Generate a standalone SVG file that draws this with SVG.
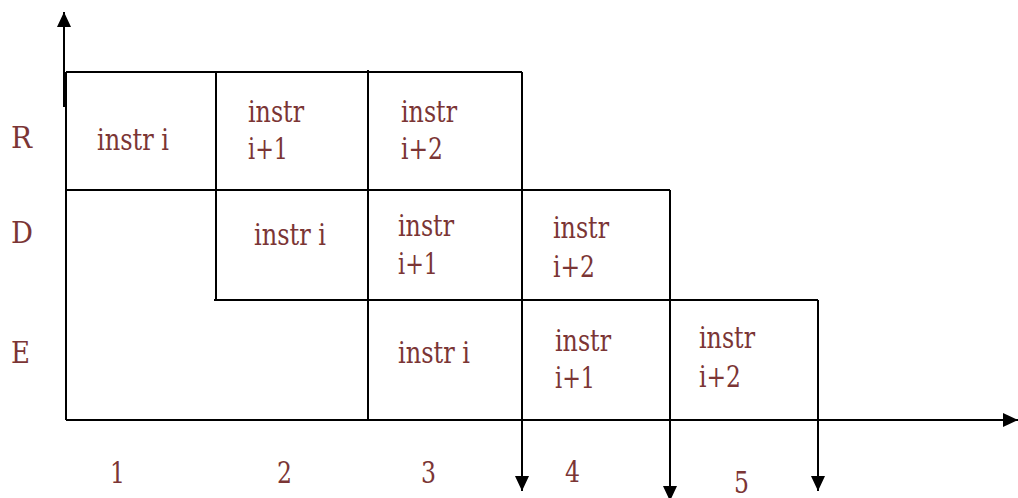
<svg xmlns="http://www.w3.org/2000/svg" width="1018" height="498" viewBox="0 0 1018 498">
  <style>
    .ln { stroke: #000; stroke-width: 2; fill: none; }
    .t { font-family: "DejaVu Serif", serif; font-size: 30px; fill: #7B3535; }
  </style>
  <defs>
    <marker id="arr" viewBox="0 0 15 14" refX="15" refY="7" markerWidth="15" markerHeight="14" markerUnits="userSpaceOnUse" orient="auto">
      <path d="M0,0 L15,7 L0,14 Z" fill="#000"/>
    </marker>
  </defs>
  <rect width="1018" height="498" fill="#fff"/>

  <!-- grid lines and axes -->
  <g id="connectors">
    <line class="ln" x1="64" y1="107" x2="64" y2="12" marker-end="url(#arr)"/>
    <line class="ln" x1="66" y1="72" x2="66" y2="420"/>
    <line class="ln" x1="66" y1="72" x2="522" y2="72"/>
    <line class="ln" x1="66" y1="190" x2="670" y2="190"/>
    <line class="ln" x1="214" y1="300" x2="818" y2="300"/>
    <line class="ln" x1="66" y1="420" x2="1018" y2="420" marker-end="url(#arr)"/>
    <line class="ln" x1="216" y1="72" x2="216" y2="300"/>
    <line class="ln" x1="368" y1="70" x2="368" y2="420"/>
    <line class="ln" x1="522" y1="72" x2="522" y2="491" marker-end="url(#arr)"/>
    <line class="ln" x1="670" y1="190" x2="670" y2="501" marker-end="url(#arr)"/>
    <line class="ln" x1="818" y1="300" x2="818" y2="491" marker-end="url(#arr)"/>
  </g>

  <!-- stage labels -->
  <g id="stage-R"><text class="t" x="11" y="148" textLength="21" lengthAdjust="spacingAndGlyphs">R</text></g>
  <g id="stage-D"><text class="t" x="11" y="243" textLength="22" lengthAdjust="spacingAndGlyphs">D</text></g>
  <g id="stage-E"><text class="t" x="11" y="363" textLength="19" lengthAdjust="spacingAndGlyphs">E</text></g>

  <!-- row R -->
  <g id="R1"><text class="t" x="97" y="150" textLength="72" lengthAdjust="spacingAndGlyphs">instr i</text></g>
  <g id="R2"><text class="t" x="248" y="122" textLength="56" lengthAdjust="spacingAndGlyphs">instr</text><text class="t" x="248" y="159" textLength="40" lengthAdjust="spacingAndGlyphs">i+1</text></g>
  <g id="R3"><text class="t" x="401" y="122" textLength="56" lengthAdjust="spacingAndGlyphs">instr</text><text class="t" x="401" y="159" textLength="42" lengthAdjust="spacingAndGlyphs">i+2</text></g>

  <!-- row D -->
  <g id="D2"><text class="t" x="254" y="245" textLength="72" lengthAdjust="spacingAndGlyphs">instr i</text></g>
  <g id="D3"><text class="t" x="398" y="236" textLength="56" lengthAdjust="spacingAndGlyphs">instr</text><text class="t" x="398" y="274" textLength="40" lengthAdjust="spacingAndGlyphs">i+1</text></g>
  <g id="D4"><text class="t" x="553" y="238" textLength="56" lengthAdjust="spacingAndGlyphs">instr</text><text class="t" x="553" y="277" textLength="42" lengthAdjust="spacingAndGlyphs">i+2</text></g>

  <!-- row E -->
  <g id="E3"><text class="t" x="398" y="363" textLength="72" lengthAdjust="spacingAndGlyphs">instr i</text></g>
  <g id="E4"><text class="t" x="555" y="351" textLength="56" lengthAdjust="spacingAndGlyphs">instr</text><text class="t" x="555" y="388" textLength="40" lengthAdjust="spacingAndGlyphs">i+1</text></g>
  <g id="E5"><text class="t" x="699" y="348" textLength="56" lengthAdjust="spacingAndGlyphs">instr</text><text class="t" x="699" y="387" textLength="42" lengthAdjust="spacingAndGlyphs">i+2</text></g>

  <!-- cycle numbers -->
  <g id="cycles">
    <text class="t" x="110" y="483" textLength="15" lengthAdjust="spacingAndGlyphs">1</text>
    <text class="t" x="277" y="483" textLength="15" lengthAdjust="spacingAndGlyphs">2</text>
    <text class="t" x="421" y="483" textLength="15" lengthAdjust="spacingAndGlyphs">3</text>
    <text class="t" x="565" y="482" textLength="15" lengthAdjust="spacingAndGlyphs">4</text>
    <text class="t" x="734" y="493" textLength="15" lengthAdjust="spacingAndGlyphs">5</text>
  </g>
</svg>
